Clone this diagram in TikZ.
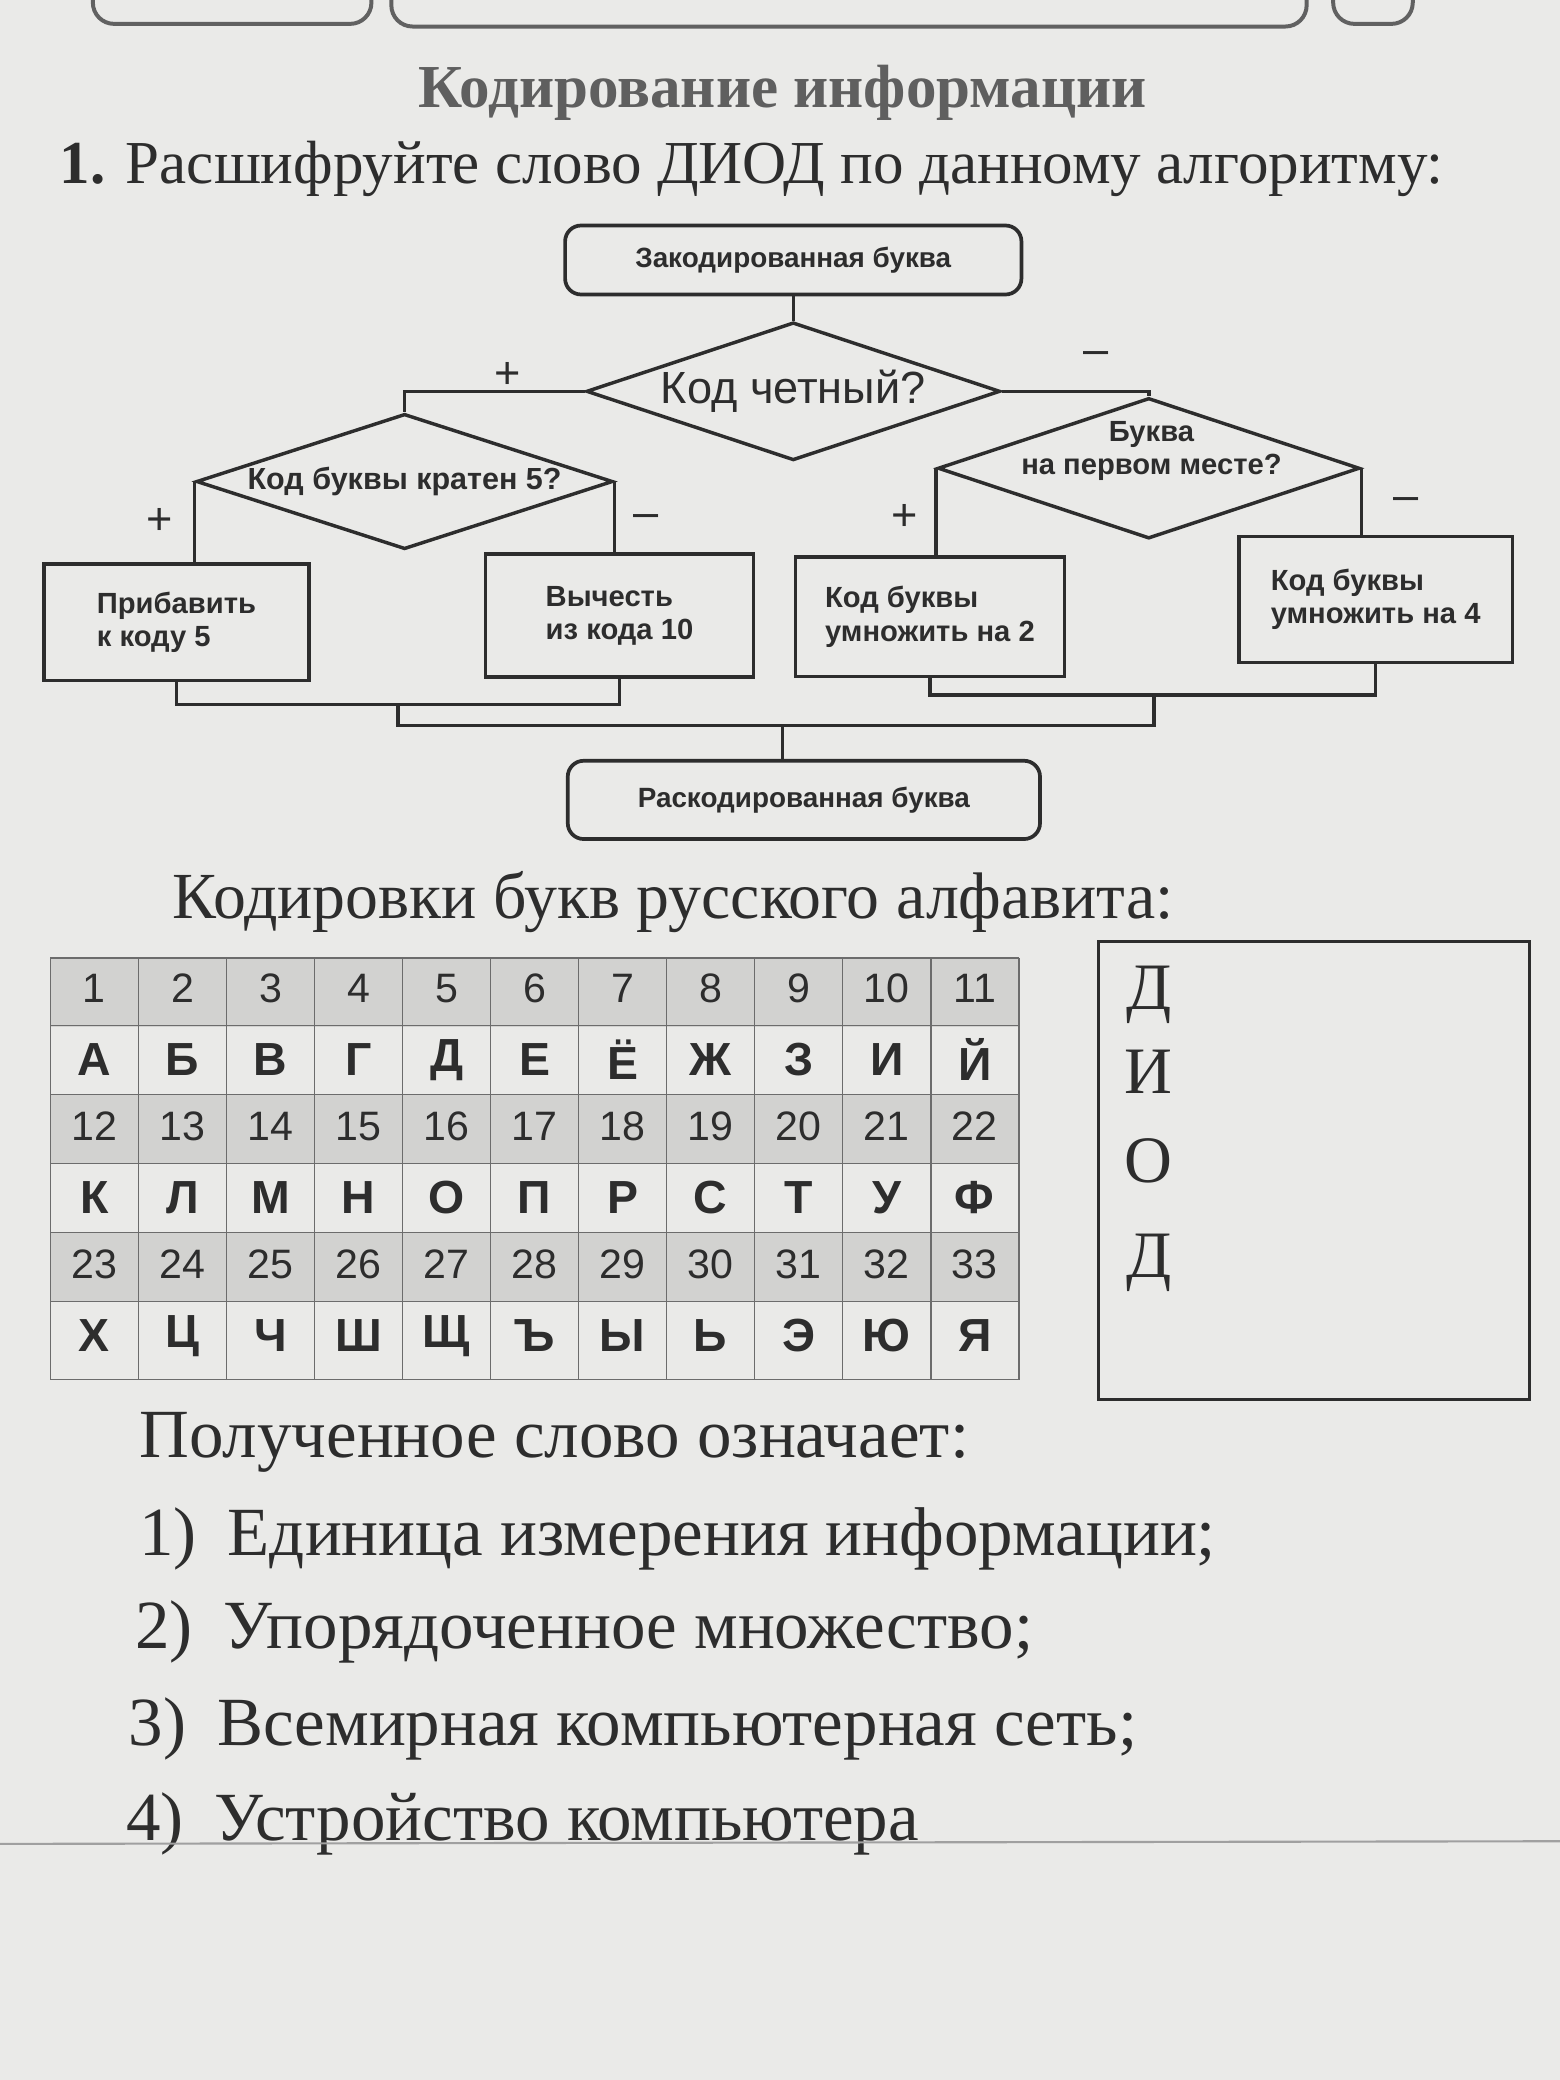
\documentclass[tikz,border=0pt]{standalone}
\usepackage{fontspec}
\setmainfont{Liberation Serif}
\setsansfont{Liberation Sans}
\usetikzlibrary{shapes.geometric}
\definecolor{paper}{RGB}{234,234,232}
\definecolor{ink}{RGB}{45,45,45}
\definecolor{titlegray}{RGB}{95,95,95}
\definecolor{band}{RGB}{210,210,208}
\newcommand{\fsz}[2]{\fontsize{#1}{#2}\selectfont}

\tikzset{
  flowline/.style={draw=ink, line width=1.3pt},
  termbox/.style={draw=ink, line width=1.4pt, rounded corners=6pt, font=\sffamily\bfseries\fsz{10.5}{13}},
  actbox/.style={draw=ink, line width=1.3pt, align=left, font=\sffamily\bfseries\fsz{11}{12.5}},
  query/.style={diamond, aspect=3, inner sep=0pt, draw=ink, line width=1.3pt, font=\sffamily\bfseries\fsz{11.5}{12.5}},
  signlabel/.style={font=\sffamily\fsz{17}{18}},
  tabline/.style={draw=ink!70, line width=0.6pt},
  numcell/.style={font=\sffamily\fsz{15.5}{18}},
  letcell/.style={font=\sffamily\bfseries\fsz{17.5}{20}},
  bigtext/.style={anchor=west, font=\fsz{24.8}{28}},
  listtext/.style={anchor=west, font=\fsz{26}{30}},
}

\begin{document}
\begin{tikzpicture}[x=0.5pt, y=-0.5pt, text=ink]
\fill[paper] (0,0) rectangle (1176,1568);
\useasboundingbox (0,0) rectangle (1176,1568);
% header of the sheet
\draw[ink!75, line width=1.5pt, rounded corners=8pt] (70,-40) rectangle (280,18);
\draw[ink!75, line width=1.5pt, rounded corners=8pt] (295,-40) rectangle (985,20);
\draw[ink!75, line width=1.5pt, rounded corners=8pt] (1005,-40) rectangle (1065,18);

\node[font=\bfseries\fsz{23}{26}, text=titlegray] (title) at (590,70) {Кодирование информации};
\node[anchor=west, font=\fsz{23}{27}] (task) at (38,127) {{\bfseries 1.} Расшифруйте слово ДИОД по данному алгоритму:};

% flowchart
\node[termbox, minimum width=172pt, minimum height=26pt] (start) at (598,196) {Закодированная буква};
\node[query, minimum width=156pt, minimum height=52pt, font=\sffamily\fsz{17}{20}] (even) at (598,295) {Код четный?};
\node[query, minimum width=157pt, minimum height=51pt] (five) at (305,363) {Код буквы кратен 5?};
\node[query, minimum width=159pt, minimum height=53pt] (first) at (866,353) {};
\node[font=\sffamily\bfseries\fsz{11}{12.5}, align=center] (firsttext) at (868,340) {Буква\\на первом месте?};
\node[actbox, minimum width=100pt, minimum height=44pt] (add) at (133,469) {Прибавить\\к коду 5};
\node[actbox, minimum width=101pt, minimum height=46.5pt] (sub) at (467,464) {Вычесть\\из кода 10};
\node[actbox, minimum width=101.5pt, minimum height=45pt] (mul2) at (701,465) {Код буквы\\умножить на 2};
\node[actbox, minimum width=103pt, minimum height=47.5pt] (mul4) at (1037,452) {Код буквы\\умножить на 4};
\node[termbox, minimum width=178pt, minimum height=29.5pt] (finish) at (606,603) {Раскодированная буква};

\coordinate (jl) at (300,531);
\coordinate (jr) at (870,524);
\coordinate (jm) at (590,547);

\draw[flowline] (start.south) -- (even.north);
\draw[flowline] (even.west) -| (five.north);
\draw[flowline] (even.east) -| (first.north);
\draw[flowline] (five.west) -- (five.west |- add.north);
\draw[flowline] (five.east) -- (five.east |- sub.north);
\draw[flowline] (first.west) -- (first.west |- mul2.north);
\draw[flowline] (first.east) -- (first.east |- mul4.north);
\draw[flowline] (add.south) |- (jl) -| (sub.south);
\draw[flowline] (mul2.south) |- (jr) -| (mul4.south);
\draw[flowline] (jl) |- (jm) -| (jr);
\draw[flowline] (jm) -- (jm |- finish.north);

\node[signlabel] (p1) at (383,283) {+};
\node[signlabel] (m1) at (826,270) {–};
\node[signlabel] (p2) at (120,393) {+};
\node[signlabel] (m2) at (487,393) {–};
\node[signlabel] (p3) at (682,390) {+};
\node[signlabel] (m3) at (1060,380) {–};

\node[bigtext] (codes) at (123,680) {Кодировки букв русского алфавита:};

% table of codes
\foreach \yy in {722,825,929}
  \fill[band] (38,\yy) rectangle (768,\yy+52);
\foreach \x in {0,...,11}
  \draw[tabline] ({38+66.36*\x},722) -- ({38+66.36*\x},1040);
\foreach \yy in {722,773,825,877,929,981,1040}
  \draw[tabline] (38,\yy) -- (768,\yy);
\foreach \k in {1,...,33}{
  \pgfmathtruncatemacro{\cc}{mod(\k-1,11)}
  \pgfmathtruncatemacro{\rr}{int((\k-1)/11)}
  \node[numcell] (n\k) at ({38+66.36*(\cc+0.5)},{745+104*\rr}) {\k};
}
\foreach \ch [count=\k] in {А,Б,В,Г,Д,Е,Ё,Ж,З,И,Й,К,Л,М,Н,О,П,Р,С,Т,У,Ф,Х,Ц,Ч,Ш,Щ,Ъ,Ы,Ь,Э,Ю,Я}{
  \pgfmathtruncatemacro{\cc}{mod(\k-1,11)}
  \pgfmathtruncatemacro{\rr}{int((\k-1)/11)}
  \node[letcell] (l\k) at ({38+66.36*(\cc+0.5)},{799+104*\rr}) {\ch};
}

% answer box
\node[draw=ink, line width=1.1pt, minimum width=162.5pt, minimum height=172.5pt] (answer) at (990.5,882.5) {};
\foreach \ch/\yy [count=\k] in {Д/750,И/808,О/875,Д/952}
  \node[font=\fsz{25}{30}] (a\k) at (866,\yy) {\ch};

\node[listtext] (means) at (98,1087) {Полученное слово означает:};
\node[listtext] (opt1) at (98,1160) {1)\hspace{0.45em}Единица измерения информации;};
\node[listtext] (opt2) at (95,1230) {2)\hspace{0.45em}Упорядоченное множество;};
\node[listtext] (opt3) at (90,1303) {3)\hspace{0.45em}Всемирная компьютерная сеть;};
\node[listtext] (opt4) at (88,1375) {4)\hspace{0.45em}Устройство компьютера};

\draw[ink!45, line width=0.8pt] (0,1390) -- (1176,1388);
\end{tikzpicture}
\end{document}
